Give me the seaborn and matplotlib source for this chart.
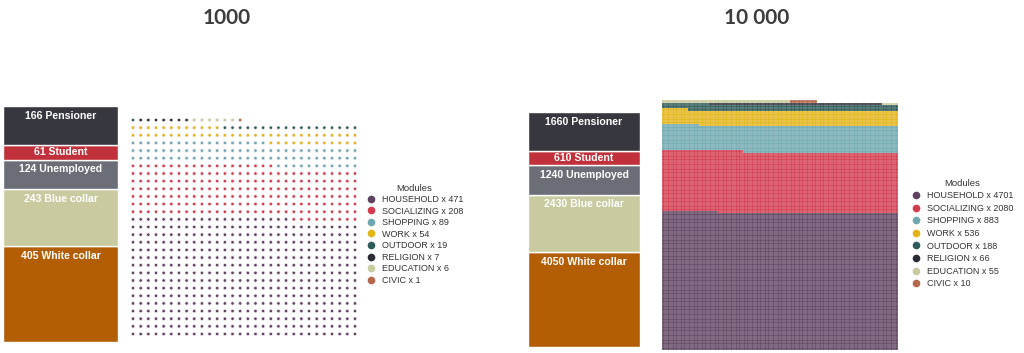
import numpy as np
import pandas as pd
import seaborn as sns
import matplotlib.pyplot as plt
from matplotlib.colors import ListedColormap
from matplotlib.lines import Line2D

sns.set_theme(style="white")
plt.rcParams['font.family'] = ['Liberation Sans', 'DejaVu Sans']

# occupation groups, top of the bar first
groups = ["Pensioner", "Student", "Unemployed", "Blue collar", "White collar"]
group_colors = ["#37373f", "#c1313b", "#6b6d77", "#c9caa0", "#b35e05"]
groups_1000 = [166, 61, 124, 243, 405]
groups_10000 = [1660, 610, 1240, 2430, 4050]

# activity modules
modules = ["HOUSEHOLD", "SOCIALIZING", "SHOPPING", "WORK",
           "OUTDOOR", "RELIGION", "EDUCATION", "CIVIC"]
module_colors = ["#5e4260", "#d23a4d", "#6ea7b0", "#e3b416",
                 "#2e5b5a", "#2b2b36", "#c9caa0", "#b5674a"]
modules_1000 = [471, 208, 89, 54, 19, 7, 6, 1]
modules_10000 = [4701, 2080, 883, 536, 188, 66, 55, 10]

W, H = 1024, 353
fig = plt.figure(figsize=(W / 100, H / 100), dpi=100)


def fx(px):
    return px / W


def fy(px):
    return 1 - px / H


def stacked_bar(rect, counts):
    ax = fig.add_axes(rect)
    bottom = 0
    # draw from the bottom segment (last group) upwards
    for name, n, c in reversed(list(zip(groups, counts, group_colors))):
        ax.bar(0, n, bottom=bottom, width=1, color=c, edgecolor="white", linewidth=1)
        off = -1.5 if name == "Student" else -3.5
        ax.annotate(f"{n} {name}", (0, bottom + n), xytext=(0, off),
                    textcoords="offset points", ha="center", va="top",
                    color="white", fontsize=7.6, fontweight="bold")
        bottom += n
    ax.set_xlim(-0.5, 0.5)
    ax.set_ylim(0, bottom)
    ax.axis("off")


def module_frame(counts, ncols):
    labels = np.repeat(modules, counts)
    idx = np.arange(len(labels))
    return pd.DataFrame({"module": labels, "col": idx % ncols, "row": idx // ncols})


def module_legend(x, y, counts, spacing):
    handles = [Line2D([], [], marker="o", ls="", color=c, markersize=4.5)
               for c in module_colors]
    labels = [f"{m} x {n}" for m, n in zip(modules, counts)]
    leg = fig.legend(handles, labels, title="Modules", loc="upper left",
                     bbox_to_anchor=(fx(x), fy(y)), frameon=False,
                     fontsize=6.5, title_fontsize=6.8, labelspacing=spacing,
                     handletextpad=0.6, handlelength=1.2, borderpad=0)
    for t in leg.get_texts():
        t.set_color("#333333")
    leg.get_title().set_color("#333333")


# ---- 1000 sample ----
stacked_bar([fx(3), fy(342), fx(115), 236 / H], groups_1000)

df1 = module_frame(modules_1000, 30)
ax1 = fig.add_axes([fx(129.2), fy(337.8), fx(229.6), 221.6 / H])
sns.scatterplot(data=df1, x="col", y="row", hue="module", hue_order=modules,
                palette=module_colors, s=6, linewidth=0.5, edgecolor="#f3eef2",
                legend=False, ax=ax1)
ax1.set_xlim(-0.5, 29.5)
ax1.set_ylim(-0.5, 28.5)
ax1.axis("off")
module_legend(361, 179, modules_1000, 0.28)

# ---- 10 000 sample ----
stacked_bar([fx(528), fy(347), fx(112), 235 / H], groups_10000)

ncols = 90
df2 = module_frame(modules_10000, ncols)
df2["code"] = df2["module"].map({m: i for i, m in enumerate(modules)})
grid = df2.pivot(index="row", columns="col", values="code").reindex(columns=range(ncols))
grid = grid.sort_index(ascending=False)
ax2 = fig.add_axes([fx(662), fy(350), fx(236), 250 / H])
sns.heatmap(grid, cmap=ListedColormap(module_colors), vmin=-0.5, vmax=7.5,
            cbar=False, linewidths=0, xticklabels=False, yticklabels=False, ax=ax2)
# faint white cell borders for the checkered look
ax2.set_xticks(np.arange(ncols + 1), minor=True)
ax2.set_yticks(np.arange(len(grid) + 1), minor=True)
ax2.tick_params(which="both", length=0)
ax2.grid(which="minor", color="white", linewidth=0.3, alpha=0.55)
ax2.set_axisbelow(False)
ax2.set_xlabel("")
ax2.set_ylabel("")

module_legend(906, 174, modules_10000, 0.4)

# ---- titles ----
fig.text(fx(227), fy(18), "1000", ha="center", va="center", family="Lato",
         fontsize=15, fontweight="bold", color="#3d3d3d")
fig.text(fx(757), fy(18), "10 000", ha="center", va="center", family="Lato",
         fontsize=15, fontweight="bold", color="#3d3d3d")

fig.savefig("out.png", dpi=100)
